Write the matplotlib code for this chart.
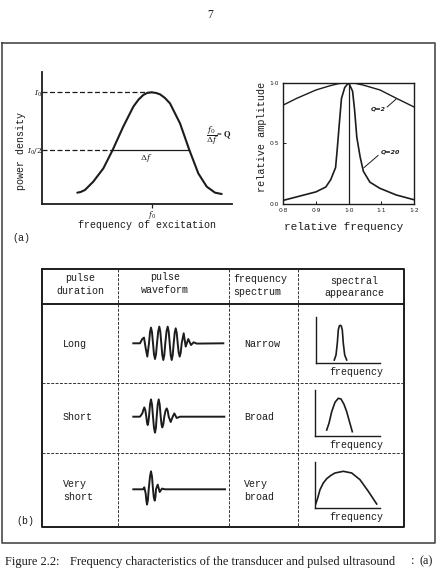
import matplotlib
matplotlib.use("Agg")
import matplotlib.pyplot as plt
import numpy as np

W, H = 444, 572
MONO = "Liberation Mono"
SERIF = "Liberation Serif"
INK = "#1c1c1c"
plt.rcParams["mathtext.fontset"] = "dejavuserif"

# (a) left: power density against frequency of excitation (f0 = 1, I0 = 1)
excitation_freq = [0.32, 0.35, 0.39, 0.466, 0.558, 0.643, 0.74, 0.832, 0.88, 0.923, 0.96,
                   1.0, 1.04, 1.076, 1.12, 1.167, 1.259, 1.344, 1.426, 1.503, 1.579, 1.64]
power_density = [0.099, 0.105, 0.123, 0.198, 0.317, 0.482, 0.692, 0.871, 0.935, 0.976, 0.995,
                 1.0, 0.994, 0.982, 0.95, 0.901, 0.721, 0.482, 0.272, 0.153, 0.099, 0.087]
half_power = 0.482

# (a) right: resonance curves for Q = 2 and Q = 20
rel_freq_q2 = [0.80, 0.841, 0.90, 0.943, 0.97, 1.0, 1.02, 1.045, 1.096, 1.147, 1.20]
rel_amp_q2 = [0.816, 0.871, 0.94, 0.975, 0.993, 1.0, 0.995, 0.98, 0.94, 0.87, 0.80]
rel_freq_q20 = [0.80, 0.85, 0.90, 0.93, 0.945, 0.96, 0.965, 0.972, 0.978, 0.988, 1.00,
                1.012, 1.018, 1.025, 1.035, 1.045, 1.065, 1.095, 1.145, 1.20]
rel_amp_q20 = [0.03, 0.065, 0.10, 0.14, 0.20, 0.30, 0.45, 0.68, 0.87, 0.96, 1.00,
               0.93, 0.78, 0.55, 0.39, 0.27, 0.18, 0.13, 0.075, 0.035]
rel_freq_ticks = [0.8, 0.9, 1.0, 1.1, 1.2]
rel_freq_labels = ["0·8", "0·9", "1·0", "1·1", "1·2"]
rel_amp_ticks = [0.0, 0.5, 1.0]
rel_amp_labels = ["0·0", "0·5", "1·0"]

# (b) table
headers = [["pulse", "duration"], ["pulse", "waveform"],
           ["frequency", "spectrum"], ["spectral", "appearance"]]
durations = [["Long"], ["Short"], ["Very", "short"]]
bandwidths = [["Narrow"], ["Broad"], ["Very", "broad"]]

# pulse waveforms: time and amplitude (px units)
long_t = [8.3, 15, 16.3, 17.3, 19, 20.7, 22.3, 24,
          25, 26, 27, 28, 29, 30, 31, 32,
          33.2, 34.3, 35.3, 36.3, 37.3, 38.3, 39.3, 40.3,
          41.5, 42.7, 43.7, 44.7, 45.7, 46.7, 47.7, 48.7,
          49.7, 50.7, 51.7, 52.7, 53.7, 54.7, 55.7, 56.7,
          58.7, 60.7, 63.3, 66, 68.7, 71.7, 98.3]
long_a = [0, 0, 2.5, 4.3, 5.7, -5, -13.3, 0,
          11.1, 15.7, 11.1, 0, -11.1, -15.7, -11.1, 0,
          11.8, 16.7, 11.8, 0, -11.8, -16.7, -11.8, 0,
          11.8, 16.7, 11.8, 0, -11.8, -16.7, -11.8, 0,
          10.6, 15, 10.6, 0, -9.4, -13.3, -9.4, 0,
          10, -3.3, 4.3, -1.7, 1, -0.3, 0]
short_t = [8.3, 15, 17.3, 18.3, 19.3, 20.3, 21.3, 22, 22.7, 23.3, 24,
           25, 26, 27, 28, 29, 30, 30.9, 31.7,
           32.7, 33.7, 34.7, 35.7, 36.5, 37.3, 38.3, 39.3,
           40.5, 41.7, 42.7, 43.7, 45.7, 47.7, 49.3, 51.7, 55, 99.3]
short_a = [0, 0, 3.3, 6.6, 9.3, 6.6, 0, -5.9, -8.3, -5.9, 0,
           12.2, 17.3, 12.2, 0, -11.3, -16, -11.3, 0,
           12.2, 17.3, 12.2, 0, -7.6, -10.7, -7.6, 0,
           5.9, 8.3, 5.9, 0, -5.3, 0, 3.3, -1.3, 0, 0]
vshort_t = [8.3, 18.3, 19.3, 20.7, 21.3, 22, 22.9, 23.7, 25, 26, 27, 28,
            28.8, 29.7, 30.4, 31, 32.7, 34.7, 37, 40, 100]
vshort_a = [0, 0, 2, -4.3, -10.8, -15.3, -10.8, 0, 12.7, 18, 12.7, 0,
            -8, -11.3, -8, 0, 4.7, -2.7, 0.7, 0, 0]
waveforms = [(long_t, long_a), (short_t, short_a), (vshort_t, vshort_a)]

# spectral appearance: frequency and amplitude (px units)
narrow_f = [18.6, 20.3, 21.6, 22.6, 23.6, 24.6, 25.6, 26.6, 27.6, 29, 31]
narrow_a = [2.7, 7.7, 19.4, 32.7, 36.7, 37.4, 36.7, 32.7, 19.4, 7.7, 2.7]
broad_f = [11.7, 14, 16.7, 20, 23.3, 26, 29, 31.7, 34, 37.3]
broad_a = [5.7, 12.4, 24, 33.4, 37.4, 36.7, 31.4, 24, 15.7, 4]
vbroad_f = [0.7, 2.7, 5, 8.3, 11.7, 16, 20, 28.3, 36.7, 45, 53.3, 61.7]
vbroad_a = [4, 10, 18.3, 25, 29.3, 32.7, 35, 36.7, 35, 28.3, 16.7, 4]
spectra = [(narrow_f, narrow_a), (broad_f, broad_a), (vbroad_f, vbroad_a)]

fig = plt.figure(figsize=(W / 100, H / 100), dpi=100)


def add_px_axes(x0, y0, x1, y1):
    ax = fig.add_axes([x0 / W, 1 - y1 / H, (x1 - x0) / W, (y1 - y0) / H])
    ax.set_facecolor("none")
    return ax


page = fig.add_axes([0, 0, 1, 1], zorder=-1)
page.set_xlim(0, W)
page.set_ylim(H, 0)
page.axis("off")


def put(x, y, s, size=7.2, family=MONO, ha="center", **kw):
    page.text(x, y, s, fontsize=size, family=family, ha=ha, va="center", color=INK, **kw)


# page frame and page number
frame_x = [2, 435, 435, 2, 2]
frame_y = [43, 43, 542.5, 542.5, 43]
page.plot(frame_x, frame_y, color="#4a4a4a", lw=1.2)
put(210, 15, "7", size=8.5, family=SERIF)

# ---- (a) left
ax1 = add_px_axes(42.3, 71.7, 232, 203.7)
ax1.plot(excitation_freq, power_density, color=INK, lw=1.5, solid_capstyle="round")
ip = int(np.argmax(power_density))
f0, i0 = excitation_freq[ip], power_density[ip]
f_lo = np.interp(half_power, power_density[:ip + 1], excitation_freq[:ip + 1])
f_hi = np.interp(half_power, power_density[ip:][::-1], excitation_freq[ip:][::-1])
ax1.plot([0, f0], [i0, i0], color=INK, lw=0.9, ls=(0, (4, 2)))
ax1.plot([0, f_lo], [half_power, half_power], color=INK, lw=0.9, ls=(0, (4, 2)))
ax1.plot([f_lo, f_hi], [half_power, half_power], color=INK, lw=0.9)
ax1.text((f_lo + f_hi) / 2 - 0.04, half_power - 0.07, r"$\Delta f$", ha="center",
         va="center", fontsize=6, color=INK)
ax1.set_xlim(0, 1.734)
ax1.set_ylim(0, 1.185)
for s in ["top", "right"]:
    ax1.spines[s].set_visible(False)
for s in ["left", "bottom"]:
    ax1.spines[s].set_linewidth(1.3)
    ax1.spines[s].set_color(INK)
ax1.set_xticks([f0], [r"$f_0$"])
ax1.set_yticks([i0, half_power], [r"$I_0$", r"$I_0/2$"])
ax1.tick_params(axis="x", length=3, width=0.9, pad=0.5, labelsize=5.5, colors=INK)
ax1.tick_params(axis="y", length=0, pad=0, labelsize=5.5, colors=INK)
put(20.7, 151, "power density", rotation=90)
put(146.7, 224.5, "frequency of excitation")
put(206, 136, r"$\dfrac{f_0}{\Delta f}$= Q", size=6, family=SERIF, fontweight="bold", ha="left")
put(21, 238, "(a)")

# ---- (a) right
ax2 = add_px_axes(283.3, 82.7, 414, 204)
ax2.plot(rel_freq_q2, rel_amp_q2, color=INK, lw=1.0)
ax2.plot(rel_freq_q20, rel_amp_q20, color=INK, lw=1.2)
ax2.axvline(1.0, color=INK, lw=0.9)
ax2.plot([1.118, 1.145], [0.80, 0.865], color=INK, lw=0.7)
ax2.plot([1.047, 1.09], [0.30, 0.40], color=INK, lw=0.7)
ax2.text(1.09, 0.78, "Q=2", fontsize=4.5, style="italic", weight="bold", ha="center",
         va="center", color=INK)
ax2.text(1.127, 0.43, "Q=20", fontsize=4.5, style="italic", weight="bold", ha="center",
         va="center", color=INK)
ax2.set_xlim(0.8, 1.2)
ax2.set_ylim(0, 1)
ax2.set_xticks(rel_freq_ticks, rel_freq_labels)
ax2.set_yticks(rel_amp_ticks, rel_amp_labels)
ax2.tick_params(direction="in", length=2, width=0.7, labelsize=4.3, pad=3, colors=INK)
for s in ax2.spines.values():
    s.set_linewidth(1.0)
    s.set_color(INK)
put(262, 137, "relative amplitude", size=7.3, rotation=90)
put(343.7, 226.7, "relative frequency", size=7.9)

# ---- (b) table
col_x = [42, 118, 229, 298, 404]
row_y = [269, 304, 383, 453, 527]
page.plot([col_x[0], col_x[-1], col_x[-1], col_x[0], col_x[0]],
          [row_y[0], row_y[0], row_y[-1], row_y[-1], row_y[0]], color=INK, lw=1.4)
page.plot([col_x[0], col_x[-1]], [row_y[1], row_y[1]], color=INK, lw=1.4)
for y in row_y[2:-1]:
    page.plot([col_x[0], col_x[-1]], [y, y], color="#333333", lw=0.7, ls=(0, (3, 1.5)))
for x in col_x[1:-1]:
    page.plot([x, x], [row_y[0], row_y[-1]], color="#333333", lw=0.7, ls=(0, (3, 1.5)))

header_pos = [(80, 278, "center"), (165, 277.5, "center"), (233.5, 279, "left"), (354, 280.5, "center")]
for lines, (x, y, ha) in zip(headers, header_pos):
    for k, line in enumerate(lines):
        put(x, y + 12.7 * k, line, ha=ha)

row_mid = [344, 416.7, 490.5]
for lines, y in zip(durations, row_mid):
    y0 = y - 6.35 * (len(lines) - 1)
    for k, line in enumerate(lines):
        put(63, y0 + 12.7 * k, line, ha="left")
for lines, y in zip(bandwidths, row_mid):
    y0 = y - 6.35 * (len(lines) - 1)
    for k, line in enumerate(lines):
        put(244, y0 + 12.7 * k, line, ha="left")

wave_base = [343.3, 416.7, 489.3]
for (t, a), yb in zip(waveforms, wave_base):
    ax = add_px_axes(125, yb - 20, 230, yb + 20)
    ax.plot(t, a, color=INK, lw=1.4, solid_joinstyle="round")
    ax.set_xlim(0, 105)
    ax.set_ylim(-20, 20)
    ax.axis("off")

spec_origin = [(315.7, 362.7), (315, 435.7), (315, 508)]
for (f, a), (xo, yo) in zip(spectra, spec_origin):
    ax = add_px_axes(xo, yo - 46, xo + 64.5, yo)
    ax.plot(f, a, color=INK, lw=1.2)
    ax.set_xlim(0, 64.5)
    ax.set_ylim(0, 46)
    ax.set_xticks([])
    ax.set_yticks([])
    for s in ["top", "right"]:
        ax.spines[s].set_visible(False)
    for s in ["left", "bottom"]:
        ax.spines[s].set_linewidth(1.0)
        ax.spines[s].set_color(INK)
    put(356, yo + 9, "frequency")
put(25, 521, "(b)")

# caption
put(5, 561.5, "Figure 2.2:", size=8.9, family=SERIF, ha="left")
put(70, 561.5, "Frequency characteristics of the transducer and pulsed ultrasound",
    size=8.9, family=SERIF, ha="left")
put(413, 561.5, ":", size=8.9, family=SERIF)
put(433, 561.5, "(a)", size=8.9, family=SERIF, ha="right")

fig.savefig("out.png", dpi=100)
